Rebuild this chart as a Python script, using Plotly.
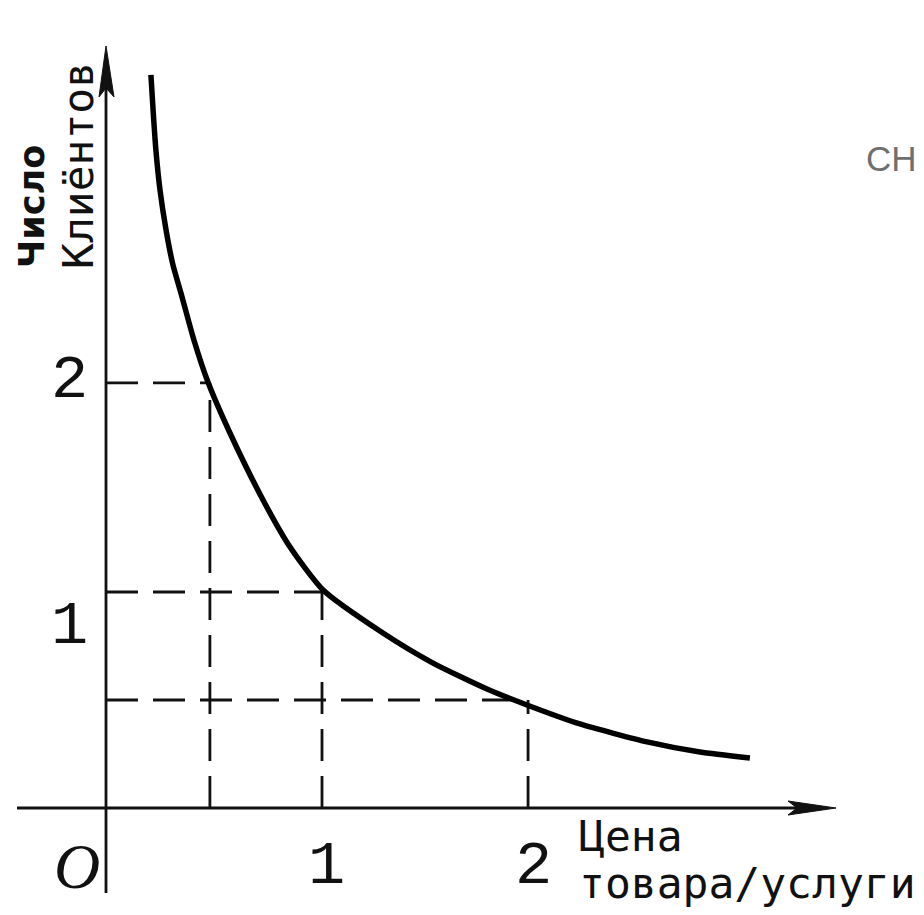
import plotly.graph_objects as go

# Demand curve (price -> number of clients)
curve_x = [0.208, 0.218, 0.231, 0.250, 0.278, 0.310, 0.352, 0.407, 0.472, 0.574,
           0.727, 0.852, 1.005, 1.282, 1.514, 1.764, 1.949, 2.194, 2.505, 2.750, 2.981]
curve_y = [3.394, 3.231, 3.046, 2.861, 2.676, 2.514, 2.366, 2.167, 1.972, 1.736,
           1.426, 1.208, 1.009, 0.810, 0.671, 0.551, 0.477, 0.389, 0.306, 0.259, 0.231]

# Guide (dashed) points on the curve
guide_x = [0.481, 1.0, 1.954]
guide_y = [1.968, 1.0, 0.5]

# Tick labels
x_tick_vals = [1, 2]
x_tick_text = ["1", "2"]
y_tick_vals = [1, 2]
y_tick_text = ["1", "2"]

origin_label = "O"
x_title_lines = ["Цена", "товара/услуги"]
y_title_lines = ["Число", "Клиёнтов"]
corner_text = "СН"

PX = 1 / 216.0  # one pixel in data units
PAGE_W, PAGE_H = 924, 915
BODY = 8  # default page margin around the figure
W, H = PAGE_W - BODY, PAGE_H - BODY
OX, OY = 106, 808  # origin in page pixels

def dx(px):
    return (px - OX) * PX

def dy(py):
    return (OY - py) * PX

fig = go.Figure()

axis_col = "#111111"
# Axes lines
fig.add_trace(go.Scatter(x=[0, 0], y=[dy(893), dy(70)], mode="lines",
                         line=dict(color=axis_col, width=2.8), hoverinfo="skip"))
fig.add_trace(go.Scatter(x=[dx(17), dx(815)], y=[0, 0], mode="lines",
                         line=dict(color=axis_col, width=2.8), hoverinfo="skip"))

# Arrowheads
fig.add_shape(type="path", xref="x", yref="y",
              path=f"M {dx(106)} {dy(46)} L {dx(99)} {dy(97)} L {dx(106)} {dy(88)} L {dx(114)} {dy(97)} Z",
              fillcolor=axis_col, line=dict(color=axis_col, width=1))
fig.add_shape(type="path", xref="x", yref="y",
              path=f"M {dx(836)} {dy(808)} L {dx(788)} {dy(801)} L {dx(797)} {dy(808)} L {dx(788)} {dy(815)} Z",
              fillcolor=axis_col, line=dict(color=axis_col, width=1))

# Dashed guide lines
for gx, gy in zip(guide_x, guide_y):
    fig.add_trace(go.Scatter(x=[0, gx], y=[gy, gy], mode="lines",
                             line=dict(color=axis_col, width=2.8, dash="32px,15px"),
                             hoverinfo="skip"))
    fig.add_trace(go.Scatter(x=[gx, gx], y=[0, gy], mode="lines",
                             line=dict(color=axis_col, width=2.8, dash="32px,15px"),
                             hoverinfo="skip"))

# Curve
fig.add_trace(go.Scatter(x=curve_x, y=curve_y, mode="lines",
                         line=dict(color="#000000", width=5.5, shape="spline", smoothing=0.6),
                         hoverinfo="skip"))

annotations = []
num_font = dict(family="Liberation Mono", size=62, color="#111111")
x_label_shift = [0.02, -0.02]
for v, t, s in zip(x_tick_vals, x_tick_text, x_label_shift):
    annotations.append(dict(x=v + s, y=dy(866), text=t, showarrow=False,
                            xanchor="center", yanchor="middle", font=num_font))
y_label_shift = [-0.16, -0.02]
for v, t, s in zip(y_tick_vals, y_tick_text, y_label_shift):
    annotations.append(dict(x=dx(69), y=v + s, text=t, showarrow=False,
                            xanchor="center", yanchor="middle", font=num_font))
annotations.append(dict(x=dx(77), y=dy(866), text=f"<i>{origin_label}</i>", showarrow=False,
                        xanchor="center", yanchor="middle",
                        font=dict(family="Liberation Serif", size=64, color="#111111")))

lbl_font = dict(family="DejaVu Sans Mono", size=43, color="#111111")
annotations.append(dict(x=dx(577), y=dy(836), text=x_title_lines[0], showarrow=False,
                        xanchor="left", yanchor="middle", font=lbl_font))
annotations.append(dict(x=dx(577), y=dy(883), text=x_title_lines[1], showarrow=False,
                        xanchor="left", yanchor="middle", font=lbl_font))
annotations.append(dict(x=dx(32), y=dy(207), text=f"<b>{y_title_lines[0]}</b>", showarrow=False,
                        textangle=-90, xanchor="center", yanchor="middle",
                        font=dict(family="DejaVu Sans", size=35, color="#111111")))
annotations.append(dict(x=dx(78), y=dy(166), text=y_title_lines[1], showarrow=False,
                        textangle=-90, xanchor="center", yanchor="middle", font=lbl_font))
annotations.append(dict(x=dx(864), y=dy(158), text=corner_text, showarrow=False,
                        xanchor="left", yanchor="middle",
                        font=dict(family="Liberation Sans", size=35, color="#6f6f6f")))

fig.update_layout(
    width=W, height=H, autosize=False,
    margin=dict(l=0, r=0, t=0, b=0, pad=0),
    paper_bgcolor="white", plot_bgcolor="white",
    showlegend=False,
    xaxis=dict(range=[dx(BODY), dx(PAGE_W)], visible=False, fixedrange=True),
    yaxis=dict(range=[dy(PAGE_H), dy(BODY)], visible=False, fixedrange=True),
    annotations=annotations,
)

fig.write_html("out.html")
